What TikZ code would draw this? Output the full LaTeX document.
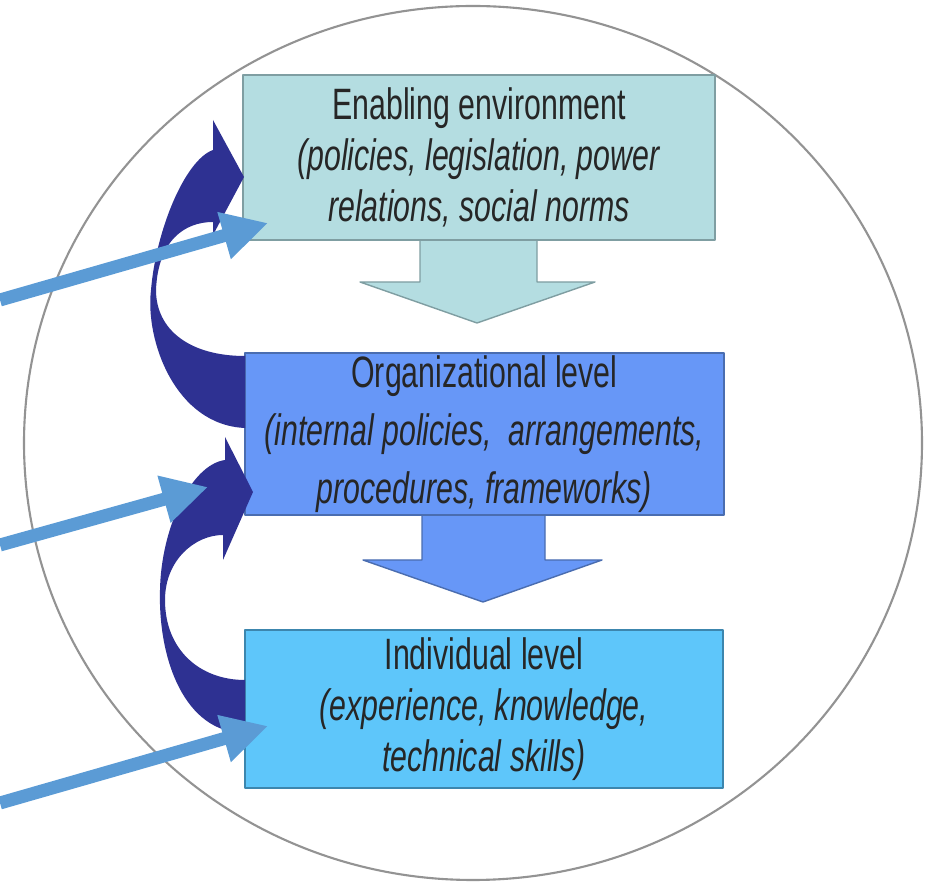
\documentclass[tikz,border=0pt]{standalone}
\usepackage{fontspec}
\setmainfont{Liberation Sans}[FakeStretch=0.69]
\usetikzlibrary{arrows.meta}
\definecolor{envfill}{HTML}{B4DDE1}
\definecolor{envdraw}{HTML}{7F9EA2}
\definecolor{orgfill}{HTML}{6797F7}
\definecolor{orgdraw}{HTML}{4A6DB0}
\definecolor{indfill}{HTML}{5EC6FA}
\definecolor{inddraw}{HTML}{3C86AE}
\definecolor{navy}{HTML}{2E3192}
\definecolor{ptrblue}{HTML}{5B9BD5}
\definecolor{txt}{HTML}{262626}
\begin{document}
\begin{tikzpicture}[x=0.02cm,y=-0.02cm,line join=round,
	lvl/.style={draw,line width=1.2pt,text=txt,align=center,inner sep=0pt,font=\fontsize{25}{29}\selectfont},
	blk/.style={line width=0.8pt},
	curvy/.style={fill=navy},
	ptr/.style={draw=ptrblue,line width=7.4pt,-{Triangle[length=26pt,width=26pt]}}]
	\useasboundingbox (0,0) rectangle (931,884);
	\draw[gray!85,line width=1.2pt] (473,443) ellipse [x radius=449,y radius=437];
	% block arrows
	\draw[blk,fill=envfill,draw=envdraw] (420,230)--(420,282)--(360,282)--(477,323)--(595,282)--(537,282)--(537,230);
	\draw[blk,fill=orgfill,draw=orgdraw] (422,505)--(422,560)--(363,560)--(483,602)--(602,560)--(545,560)--(545,505);
	\node[lvl,draw=envdraw,fill=envfill,minimum width=9.44cm,minimum height=3.3cm] (env) at (479,157.5)
		{Enabling environment\\\textit{(policies, legislation, power}\\\textit{relations, social norms}};
	\node[lvl,draw=orgdraw,fill=orgfill,minimum width=9.58cm,minimum height=3.24cm,font=\fontsize{25}{33}\selectfont] (org) at (484.5,434)
		{Organizational level\\\textit{(internal policies,\ \ arrangements,}\\\textit{procedures, frameworks)}};
	\node[lvl,draw=inddraw,fill=indfill,minimum width=9.56cm,minimum height=3.16cm] (ind) at (484,709)
		{Individual level\\\textit{(experience, knowledge,}\\\textit{technical skills)}};
	% curved arrows
	\fill[curvy] (245,356)--(245,428)
		.. controls (175,425) and (145,340) .. (151,290)
		.. controls (156,230) and (185,160) .. (213,150)
		--(213,120)--(244,177)--(213,235)--(213,222)
		.. controls (185,222) and (158,240) .. (156,290)
		.. controls (156,330) and (190,356) .. (245,356)--cycle;
	\fill[curvy] (245,680)--(245,733)
		.. controls (185,733) and (158,660) .. (160,590)
		.. controls (161,530) and (190,465) .. (225,460)
		--(225,437)--(253,492)--(223,560)--(223,535)
		.. controls (195,535) and (165,560) .. (165,600)
		.. controls (165,650) and (200,680) .. (245,680)--cycle;
	% pointers
	\coordinate (p1) at (0,300);
	\coordinate (t1) at (268,223);
	\coordinate (p2) at (0,545);
	\coordinate (t2) at (208,487);
	\coordinate (p3) at (0,803);
	\coordinate (t3) at (268,726);
	\foreach \i in {1,2,3}{\draw[ptr] (p\i)--(t\i);}
\end{tikzpicture}
\end{document}
